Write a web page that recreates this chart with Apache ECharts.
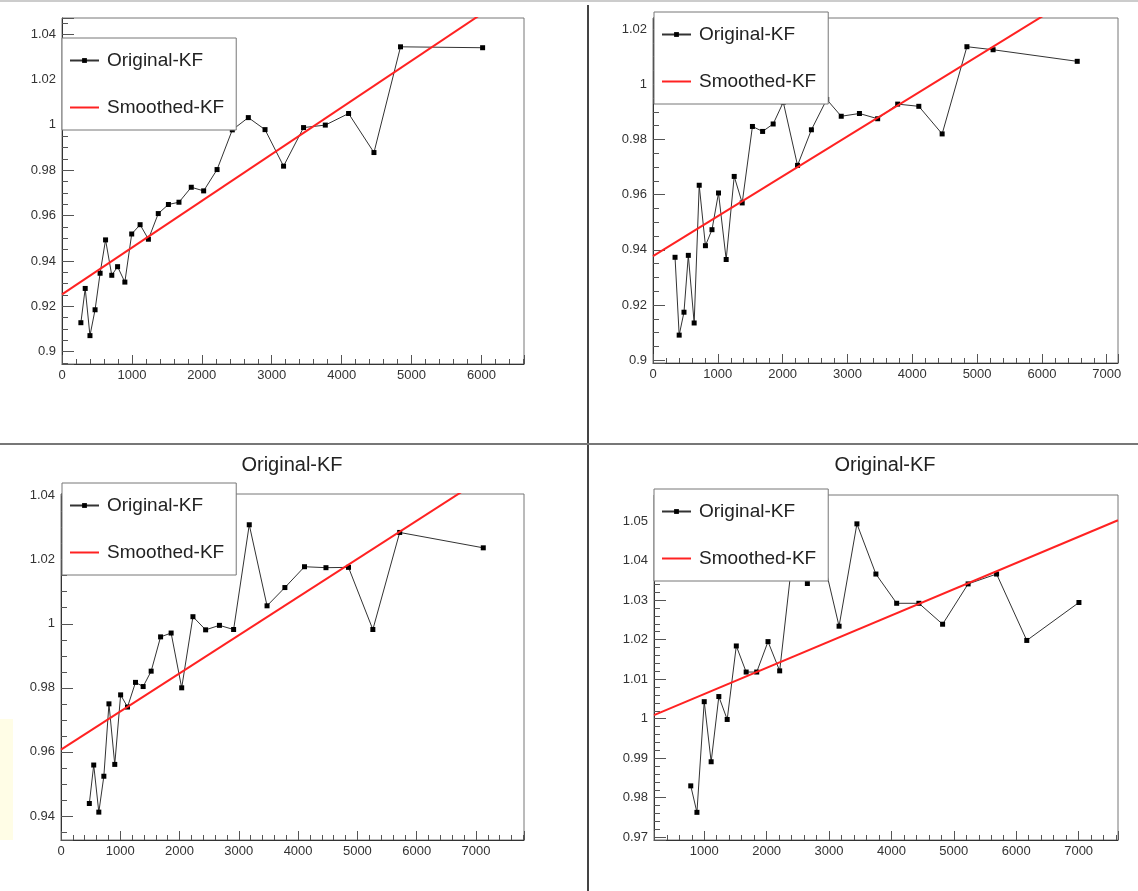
<!DOCTYPE html>
<html>
<head>
<meta charset="utf-8">
<title>Original-KF</title>
<script src="https://cdn.jsdelivr.net/npm/echarts@6/dist/echarts.min.js"></script>
<style>
  html, body { margin: 0; padding: 0; background: #fff; }
  #chart { width: 1138px; height: 891px; }
</style>
</head>
<body>
<div id="chart"></div>
<script>
// top-left pad
const p1X = [270, 332, 400, 473, 545, 623, 712, 795, 899, 997, 1117, 1236, 1377, 1522, 1673, 1849, 2026, 2218, 2436, 2665, 2904, 3169, 3455, 3766, 4099, 4462, 4842, 6016]
const p1Y = [0.9128, 0.9279, 0.9071, 0.9185, 0.9346, 0.9493, 0.9337, 0.9375, 0.9307, 0.9519, 0.9560, 0.9496, 0.9609, 0.9649, 0.9659, 0.9725, 0.9709, 0.9803, 0.9978, 1.0032, 0.9979, 0.9818, 0.9988, 0.9999, 1.0050, 0.9878, 1.0344, 1.0340]
// top-right pad
const p2X = [340, 404, 478, 545, 635, 713, 809, 910, 1011, 1129, 1253, 1376, 1534, 1691, 1854, 2010, 2230, 2444, 2680, 2904, 3185, 3466, 3775, 4101, 4461, 4843, 5247, 6545]
const p2Y = [0.9373, 0.9091, 0.9174, 0.9380, 0.9135, 0.9634, 0.9415, 0.9473, 0.9606, 0.9365, 0.9666, 0.9570, 0.9847, 0.9829, 0.9856, 0.9935, 0.9706, 0.9835, 0.9945, 0.9884, 0.9894, 0.9875, 0.9928, 0.9920, 0.9820, 1.0136, 1.0125, 1.0083]
// bottom-left pad
const p3X = [478, 552, 638, 723, 809, 907, 1006, 1122, 1257, 1386, 1521, 1680, 1858, 2036, 2226, 2440, 2673, 2912, 3176, 3476, 3777, 4108, 4470, 4850, 5261, 5714, 7124]
const p3Y = [0.9439, 0.9559, 0.9412, 0.9524, 0.9750, 0.9561, 0.9778, 0.9740, 0.9817, 0.9804, 0.9852, 0.9959, 0.9971, 0.9800, 1.0022, 0.9981, 0.9995, 0.9982, 1.0309, 1.0056, 1.0113, 1.0178, 1.0175, 1.0176, 0.9982, 1.0285, 1.0237]
// bottom-right pad
const p4X = [784, 883, 1000, 1111, 1234, 1368, 1514, 1672, 1841, 2022, 2209, 2420, 2653, 2900, 3161, 3447, 3751, 4084, 4440, 4820, 5229, 5685, 6169, 7005]
const p4Y = [0.9830, 0.9763, 1.0043, 0.9891, 1.0056, 0.9998, 1.0184, 1.0118, 1.0118, 1.0195, 1.0121, 1.0417, 1.0342, 1.0409, 1.0234, 1.0493, 1.0366, 1.0292, 1.0292, 1.0239, 1.0341, 1.0366, 1.0198, 1.0294]

// smoothed (fit) line end points
const fit1X = [0, 6608]
const fit1Y = [0.9253, 1.0614]
const fit2X = [0, 7174]
const fit2Y = [0.9377, 1.0415]
const fit3X = [0, 7811]
const fit3Y = [0.9607, 1.0537]
const fit4X = [195, 7631]
const fit4Y = [1.0009, 1.0502]

// axis ranges of the frames
const xRanges = [[0, 6608], [0, 7174], [0, 7811], [195, 7631]]
const yRanges = [[0.8946, 1.0471], [0.899, 1.024], [0.9325, 1.0405], [0.9693, 1.0566]]
const ySteps = [0.02, 0.02, 0.02, 0.01]
const yMinor = [4, 4, 4, 5]

const seriesNames = ['Original-KF', 'Smoothed-KF']
const font = 'Liberation Sans, Arial, Helvetica, sans-serif'

const pads = [
  { x: p1X, y: p1Y, fx: fit1X, fy: fit1Y, grid: { left: 62, top: 18, width: 462, height: 346 }, legend: { left: 62, top: 38 } },
  { x: p2X, y: p2Y, fx: fit2X, fy: fit2Y, grid: { left: 653, top: 18, width: 465, height: 345 }, legend: { left: 654, top: 12 } },
  { x: p3X, y: p3Y, fx: fit3X, fy: fit3Y, grid: { left: 61, top: 494, width: 463, height: 346 }, legend: { left: 62, top: 483 } },
  { x: p4X, y: p4Y, fx: fit4X, fy: fit4Y, grid: { left: 654, top: 495, width: 464, height: 345 }, legend: { left: 654, top: 489 } }
]

const chart = echarts.init(document.getElementById('chart'), null, { renderer: 'canvas' })

const grids = []
const xAxes = []
const yAxes = []
const series = []
const legends = []

pads.forEach((p, i) => {
  grids.push(Object.assign({
    show: true,
    borderColor: '#777',
    borderWidth: 1,
    backgroundColor: '#fff',
    containLabel: false
  }, p.grid))

  xAxes.push({
    type: 'value',
    gridIndex: i,
    min: xRanges[i][0],
    max: xRanges[i][1],
    minInterval: 1000,
    maxInterval: 1000,
    splitLine: { show: false },
    axisLine: { show: true, onZero: false, lineStyle: { color: '#333', width: 1 } },
    axisTick: { show: true, inside: true, length: 9, lineStyle: { color: '#555' } },
    minorTick: { show: true, splitNumber: 5, length: 5, lineStyle: { color: '#555' } },
    axisLabel: {
      margin: 5,
      fontFamily: font,
      fontSize: 13,
      color: '#333',
      showMinLabel: xRanges[i][0] === 0,
      showMaxLabel: false,
      formatter: (v) => String(v)
    }
  })

  yAxes.push({
    type: 'value',
    gridIndex: i,
    min: yRanges[i][0],
    max: yRanges[i][1],
    minInterval: ySteps[i],
    maxInterval: ySteps[i],
    splitLine: { show: false },
    axisLine: { show: true, onZero: false, lineStyle: { color: '#333', width: 1 } },
    axisTick: { show: true, inside: true, length: 12, lineStyle: { color: '#555' } },
    minorTick: { show: true, splitNumber: yMinor[i], length: 6, lineStyle: { color: '#555' } },
    axisLabel: {
      margin: 6,
      fontFamily: font,
      fontSize: 13,
      color: '#333',
      showMinLabel: false,
      showMaxLabel: false,
      formatter: (v) => String(v)
    }
  })

  series.push({
    name: seriesNames[0],
    type: 'line',
    xAxisIndex: i,
    yAxisIndex: i,
    data: p.x.map((v, k) => [v, p.y[k]]),
    symbol: 'rect',
    symbolSize: 5,
    showAllSymbol: true,
    itemStyle: { color: '#000' },
    lineStyle: { color: '#333', width: 1 },
    emphasis: { disabled: true },
    silent: true,
    animation: false,
    z: 3
  })

  series.push({
    name: seriesNames[1],
    type: 'line',
    xAxisIndex: i,
    yAxisIndex: i,
    data: p.fx.map((v, k) => [v, p.fy[k]]),
    symbol: 'none',
    clip: true,
    itemStyle: { color: '#ff2222' },
    lineStyle: { color: '#ff2222', width: 2 },
    emphasis: { disabled: true },
    silent: true,
    animation: false,
    z: 4
  })

  legends.push({
    // the fit line gets a plain line in the legend, no marker
    data: [
      { name: seriesNames[0] },
      { name: seriesNames[1], itemStyle: { opacity: 0 } }
    ],
    orient: 'vertical',
    left: p.legend.left,
    top: p.legend.top,
    itemWidth: 29,
    itemHeight: 6,
    itemGap: 28,
    padding: [13, 12, 13, 7],
    backgroundColor: '#fff',
    borderColor: '#777',
    borderWidth: 1,
    borderRadius: 0,
    selectedMode: false,
    textStyle: { fontFamily: font, fontSize: 19, color: '#222', padding: [0, 0, 0, 3] },
    z: 10
  })
})

chart.setOption({
  backgroundColor: '#fff',
  animation: false,
  grid: grids,
  xAxis: xAxes,
  yAxis: yAxes,
  legend: legends,
  series: series,
  graphic: [
    // thin strip at the very top of the screen shot
    { type: 'line', shape: { x1: 0, y1: 1, x2: 1138, y2: 1 }, style: { stroke: '#ccc', lineWidth: 2 }, silent: true },
    // pad separators
    { type: 'line', shape: { x1: 588, y1: 5, x2: 588, y2: 891 }, style: { stroke: '#444', lineWidth: 2 }, silent: true, z: 20 },
    { type: 'line', shape: { x1: 0, y1: 444, x2: 1138, y2: 444 }, style: { stroke: '#777', lineWidth: 2 }, silent: true, z: 20 },
    { type: 'rect', shape: { x: 0, y: 719, width: 13, height: 121 }, style: { fill: '#fffde6' }, silent: true },
    // pad titles
    { type: 'text', x: 292, y: 465, style: { text: 'Original-KF', font: '20px ' + font, fill: '#222', textAlign: 'center', textVerticalAlign: 'middle' }, silent: true },
    { type: 'text', x: 885, y: 465, style: { text: 'Original-KF', font: '20px ' + font, fill: '#222', textAlign: 'center', textVerticalAlign: 'middle' }, silent: true }
  ]
})
</script>
</body>
</html>
